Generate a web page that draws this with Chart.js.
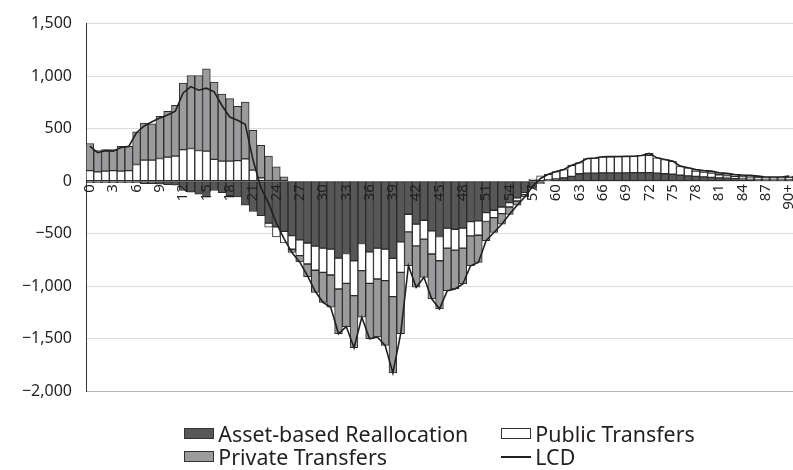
<!DOCTYPE html>
<html><head><meta charset="utf-8">
<script src="https://cdn.jsdelivr.net/npm/chart.js@4/dist/chart.umd.min.js"></script>
<style>
html,body{margin:0;padding:0;background:#fff;}
#wrap{position:relative;width:793px;height:470px;}
#c{position:absolute;left:0;top:0;}
#legend{position:absolute;left:86px;width:707px;top:422px;display:flex;justify-content:center;font-family:"Noto Sans",sans-serif;font-size:21.4px;color:#231f20;}
#legend .grid{display:grid;grid-template-columns:auto auto;column-gap:33px;row-gap:0;line-height:23px;}
#legend .item{display:flex;align-items:center;white-space:nowrap;}
#legend .sw{display:inline-block;width:30px;height:11px;margin-right:4px;box-sizing:border-box;border:1px solid #333;}
#legend .ln{display:inline-block;width:30px;height:0;border-top:2px solid #231f20;margin-right:4px;}
</style></head>
<body><div id="wrap"><canvas id="c" width="793" height="470"></canvas><div id="legend"></div></div>
<script>
const ages = ["0","1","2","3","4","5","6","7","8","9","10","11","12","13","14","15","16","17","18","19","20","21","22","23","24","25","26","27","28","29","30","31","32","33","34","35","36","37","38","39","40","41","42","43","44","45","46","47","48","49","50","51","52","53","54","55","56","57","58","59","60","61","62","63","64","65","66","67","68","69","70","71","72","73","74","75","76","77","78","79","80","81","82","83","84","85","86","87","88","89","90+"];

const assetReallocation = [-15,-15,-15,-15,-15,-15,-15,-25,-25,-30,-35,-40,-90,-106,-125,-150,-90,-110,-140,-150,-230,-290,-330,-400,-437,-480,-520,-560,-590,-620,-639,-648,-734,-690,-759,-595,-674,-639,-648,-737,-579,-316,-411,-373,-474,-528,-449,-459,-449,-386,-380,-300,-278,-247,-206,-160,-110,-60,-20,10,20,30,45,70,75,75,78,78,78,78,80,80,80,75,70,65,55,50,45,40,35,30,28,25,22,20,18,15,15,15,18];

const publicTransfers = [100,88,95,100,95,100,158,199,199,215,228,237,300,310,291,285,206,190,190,195,212,104,30,-40,-95,-110,-130,-150,-200,-230,-231,-247,-294,-285,-332,-259,-300,-294,-300,-364,-291,-168,-206,-180,-221,-231,-190,-199,-190,-136,-136,-85,-70,-63,-41,-30,-20,20,50,55,70,80,105,105,140,145,153,155,156,157,157,164,165,146,135,125,87,76,50,45,40,30,25,20,18,17,15,12,12,12,15];

const privateTransfers = [258,203,205,200,237,232,310,354,345,402,436,484,633,696,715,784,736,639,595,517,541,380,310,237,136,40,-30,-60,-120,-210,-285,-307,-427,-411,-497,-443,-528,-553,-617,-727,-585,-323,-395,-364,-427,-459,-405,-370,-342,-285,-259,-183,-142,-101,-70,-40,-20,-10,-5,0,0,0,0,0,0,0,0,0,0,0,0,0,20,0,0,0,0,0,15,16,20,19,20,18,17,17,14,11,11,11,14];

const lcd = [332,270,290,285,320,330,460,525,565,600,630,665,840,900,865,885,850,720,610,580,540,200,-60,-210,-400,-550,-680,-770,-900,-1050,-1155,-1202,-1455,-1386,-1588,-1297,-1502,-1486,-1565,-1828,-1455,-807,-1012,-917,-1122,-1218,-1044,-1028,-981,-807,-775,-568,-490,-411,-317,-230,-150,-50,25,65,90,110,150,175,215,220,231,233,234,235,237,244,265,221,205,190,142,126,110,101,95,79,73,63,57,54,47,38,38,38,47];

const seriesNames = ["Asset-based Reallocation","Public Transfers","Private Transfers","LCD"];
const yTicks = [-2000,-1500,-1000,-500,0,500,1000,1500];

const COL_ASSET = "#575757", COL_PUBLIC = "#ffffff", COL_PRIVATE = "#9b9b9d", COL_EDGE = "#2b2b2b";

function fmt(v){
  const s = Math.abs(v).toLocaleString("en-US");
  return v < 0 ? "\u2212" + s : s;
}

const barCommon = {borderColor: COL_EDGE, borderWidth: 1, borderSkipped: false, categoryPercentage: 1.0, barPercentage: 1.0, order: 1};

new Chart(document.getElementById("c"), {
  type: "bar",
  data: {
    labels: ages,
    datasets: [
      Object.assign({label: seriesNames[0], data: assetReallocation, backgroundColor: COL_ASSET}, barCommon),
      Object.assign({label: seriesNames[1], data: publicTransfers, backgroundColor: COL_PUBLIC}, barCommon),
      Object.assign({label: seriesNames[2], data: privateTransfers, backgroundColor: COL_PRIVATE}, barCommon),
      {type: "line", label: seriesNames[3], data: lcd, borderColor: "#231f20", borderWidth: 1.6, pointRadius: 0, tension: 0, fill: false, stack: "lcd", order: 0}
    ]
  },
  options: {
    responsive: false,
    animation: false,
    devicePixelRatio: 1,
    layout: {padding: {top: 22, bottom: 79, left: 0, right: 0}},
    plugins: {legend: {display: false}, tooltip: {enabled: false}},
    scales: {
      x: {
        stacked: true,
        position: {y: 0},
        afterFit: function(s){ s.paddingLeft = 0; s.paddingRight = 0; },
        grid: {display: false, drawTicks: false},
        border: {display: false},
        ticks: {
          z: 1,
          autoSkip: false,
          maxRotation: 90, minRotation: 90,
          padding: 3,
          color: "#231f20",
          font: {family: "Noto Sans", size: 15},
          callback: function(v, i){ return i % 3 === 0 ? ages[i] : ""; }
        }
      },
      y: {
        stacked: true,
        min: -2000, max: 1500,
        afterFit: function(s){ s.width = 86; },
        afterBuildTicks: function(s){ s.ticks = yTicks.map(v => ({value: v})); },
        grid: {color: function(ctx){ return ctx.tick && ctx.tick.value === -2000 ? "#b5b5b5" : "#dcdcdc"; }, lineWidth: 1, drawTicks: false},
        border: {display: true, color: "#333333", width: 1},
        ticks: {
          padding: 14,
          color: "#231f20",
          font: {family: "Noto Sans", size: 16},
          callback: function(v){ return fmt(v); }
        }
      }
    }
  }
});

const legendItems = [
  {name: seriesNames[0], kind: "box", color: COL_ASSET},
  {name: seriesNames[1], kind: "box", color: COL_PUBLIC},
  {name: seriesNames[2], kind: "box", color: COL_PRIVATE},
  {name: seriesNames[3], kind: "line"}
];
const lg = document.createElement("div"); lg.className = "grid";
legendItems.forEach(it => {
  const d = document.createElement("div"); d.className = "item";
  const s = document.createElement("span");
  if (it.kind === "box") { s.className = "sw"; s.style.background = it.color; } else { s.className = "ln"; }
  d.appendChild(s);
  const t = document.createElement("span"); t.textContent = it.name; d.appendChild(t);
  lg.appendChild(d);
});
document.getElementById("legend").appendChild(lg);
</script>
</body></html>
